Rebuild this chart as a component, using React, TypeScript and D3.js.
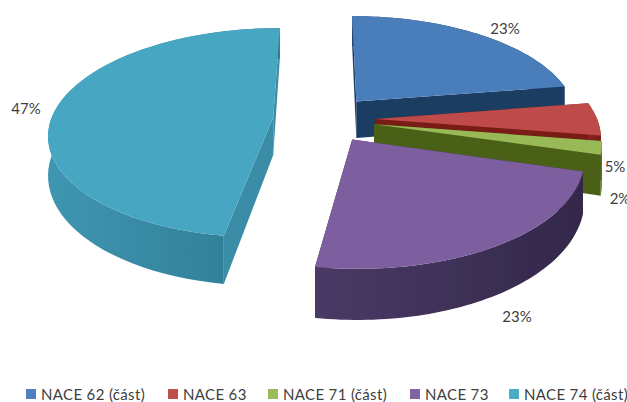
import * as d3 from "d3";

const categories = ["NACE 62 (část)", "NACE 63", "NACE 71 (část)", "NACE 73", "NACE 74 (část)"];
// the printed labels are rounded
const shares = [22.5, 5, 2, 23, 47.5];
const shareLabels = ["23%", "5%", "2%", "23%", "47%"];

const topColors = ["#4a7ebb", "#be4b48", "#98b954", "#7d5f9f", "#46a6c2"];
const cutColors = ["#1b3c62", "#7a1a16", "#4a6119", "#3a2d4e", "#3b8ca7"];
const rimStart = ["#24466f", "#8a2421", "#56701f", "#4a3a66", "#3f96b1"];
const rimEnd = ["#1b3c62", "#7a1a16", "#4a6119", "#33284a", "#2f7a92"];
const legendColors = ["#4f81bd", "#c0504d", "#9bbb59", "#8064a2", "#4bacc6"];

const labelX = [505, 615, 620, 517, 26];
const labelY = [28, 166, 198, 316, 108];
const legendX = [26, 168, 268, 410, 509];

const WIDTH = 627;
const HEIGHT = 402;
const CX = 324;
const CY = 119;
const RX = 222;
const RY = 103;
const PERSPECTIVE = 0.15;
const EXPLODE = 0.23;
const DEPTH = 38;

// plane position -> screen, lines converge towards the far side of the pie
function project(u: number, v: number, drop: number): [number, number] {
  const s = 1 / (1 + PERSPECTIVE * v);
  return [CX + RX * u * s, CY - RY * v * s + drop * DEPTH * Math.pow(s, 1.5)];
}

export default function App() {
  const arcs = d3.pie<number>().value((d) => d).sort(null)(shares);
  const line = d3.line().curve(d3.curveLinear);

  const slices = arcs.map((arc, i) => {
    const mid = (arc.startAngle + arc.endAngle) / 2;
    const ou = EXPLODE * Math.sin(mid);
    const ov = EXPLODE * Math.cos(mid);
    const rimPoint = (a: number, drop: number) =>
      project(ou + Math.sin(a), ov + Math.cos(a), drop);
    const angles = d3
      .range(0, 61)
      .map((k) => arc.startAngle + ((arc.endAngle - arc.startAngle) * k) / 60);
    const apex = project(ou, ov, 0);
    const apexLow = project(ou, ov, 1);
    const top = angles.map((a) => rimPoint(a, 0));
    const low = angles.map((a) => rimPoint(a, 1));
    const xs = top.map((p) => p[0]);
    return {
      i,
      face: line([apex, ...top])! + "Z",
      rim: line([...top, ...low.slice().reverse()])! + "Z",
      cutStart: line([apex, top[0], low[0], apexLow])! + "Z",
      cutEnd: line([apex, top[60], low[60], apexLow])! + "Z",
      x1: d3.min(xs)!,
      x2: d3.max(xs)!,
    };
  });

  return (
    <svg
      width={WIDTH}
      height={HEIGHT}
      style={{ position: "absolute", left: 0, top: 0, background: "#fff" }}
      fontFamily="Lato, 'Open Sans', sans-serif"
    >
      <defs>
        <filter id="soft" x="-5%" y="-5%" width="110%" height="110%">
          <feGaussianBlur stdDeviation="0.4" />
        </filter>
        {slices.map((s) => (
          <linearGradient
            key={s.i}
            id={`rim-${s.i}`}
            gradientUnits="userSpaceOnUse"
            x1={s.x1}
            x2={s.x2}
            y1={0}
            y2={0}
          >
            <stop offset="0%" stopColor={rimStart[s.i]} />
            <stop offset="100%" stopColor={rimEnd[s.i]} />
          </linearGradient>
        ))}
      </defs>
      <g filter="url(#soft)">
        {slices.map((s) => (
          <g key={s.i}>
            <path d={s.cutEnd} fill={cutColors[s.i]} />
            <path d={s.cutStart} fill={cutColors[s.i]} />
            <path d={s.rim} fill={`url(#rim-${s.i})`} />
            <path d={s.face} fill={topColors[s.i]} />
          </g>
        ))}
      </g>
      {shareLabels.map((t, i) => (
        <text
          key={i}
          x={labelX[i]}
          y={labelY[i]}
          textAnchor="middle"
          dominantBaseline="central"
          fontSize={15}
          fill="#404040"
        >
          {t}
        </text>
      ))}
      {categories.map((c, i) => (
        <g key={c} transform={`translate(${legendX[i]},394)`}>
          <rect x={0} y={-5} width={10} height={10} fill={legendColors[i]} />
          <text
            x={15}
            y={0}
            dominantBaseline="central"
            fontSize={15}
            letterSpacing={0.35}
            fill="#404040"
          >
            {c}
          </text>
        </g>
      ))}
    </svg>
  );
}
